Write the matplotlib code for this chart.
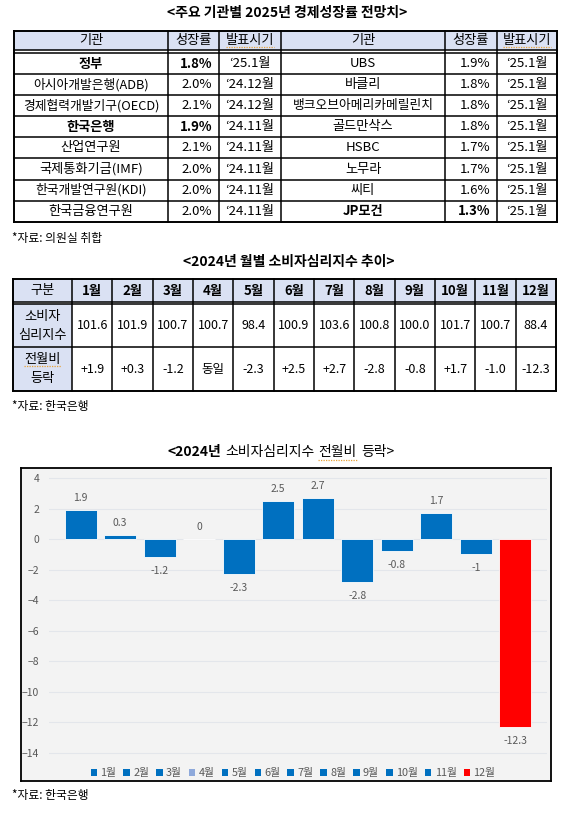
import matplotlib.pyplot as plt
from matplotlib.patches import Rectangle, Patch

plt.rcParams['font.family'] = ['Noto Sans CJK KR', 'DejaVu Sans']

# ---- table 1: growth forecasts ----
left_org = ['정부', '아시아개발은행(ADB)', '경제협력개발기구(OECD)', '한국은행',
            '산업연구원', '국제통화기금(IMF)', '한국개발연구원(KDI)', '한국금융연구원']
left_rate = [1.8, 2.0, 2.1, 1.9, 2.1, 2.0, 2.0, 2.0]
left_date = ['‘25.1월', '‘24.12월', '‘24.12월', '‘24.11월',
             '‘24.11월', '‘24.11월', '‘24.11월', '‘24.11월']
left_bold = [True, False, False, True, False, False, False, False]

right_org = ['UBS', '바클리', '뱅크오브아메리카메릴린치', '골드만삭스',
             'HSBC', '노무라', '씨티', 'JP모건']
right_rate = [1.9, 1.8, 1.8, 1.8, 1.7, 1.7, 1.6, 1.3]
right_date = ['‘25.1월'] * 8
right_bold = [False, False, False, False, False, False, False, True]

# ---- table 2 / chart: consumer sentiment ----
months = ['1월', '2월', '3월', '4월', '5월', '6월',
          '7월', '8월', '9월', '10월', '11월', '12월']
csi = [101.6, 101.9, 100.7, 100.7, 98.4, 100.9,
       103.6, 100.8, 100.0, 101.7, 100.7, 88.4]
change = [1.9, 0.3, -1.2, 0, -2.3, 2.5, 2.7, -2.8, -0.8, 1.7, -1.0, -12.3]
bar_colors = ['#0070C0', '#0070C0', '#0070C0', '#8EA9DB', '#0070C0', '#0070C0',
              '#0070C0', '#0070C0', '#0070C0', '#0070C0', '#0070C0', '#FF0000']

W, H = 585, 813
HEAD = '#DAE1F3'
fig = plt.figure(figsize=(W / 100, H / 100), dpi=100)
cv = fig.add_axes([0, 0, 1, 1])
cv.set_xlim(0, W)
cv.set_ylim(H, 0)
cv.axis('off')


def hl(y, x0, x1, lw=1.1):
    cv.plot([x0, x1], [y, y], color='black', lw=lw, solid_capstyle='projecting')


def vl(x, y0, y1, lw=1.1):
    cv.plot([x, x], [y0, y1], color='black', lw=lw, solid_capstyle='projecting')


fs = 9.5
# title 1
cv.text(287, 13, '<주요 기관별 2025년 경제성장률 전망치>', ha='center', va='center',
        fontsize=10, fontweight='bold')

cols = [14, 168, 219, 281, 445, 497, 557]
top, head, body, rh = 31, 50, 53, 21.1
bottom = body + rh * 8
cv.add_patch(Rectangle((cols[0], top), cols[-1] - cols[0], head - top, fc=HEAD, ec='none'))
hl(top, cols[0], cols[-1], 1.4)
hl(head, cols[0], cols[-1])
hl(body, cols[0], cols[-1])
for i in range(1, 8):
    hl(body + rh * i, cols[0], cols[-1])
hl(bottom, cols[0], cols[-1], 1.4)
for k, x in enumerate(cols):
    vl(x, top, bottom, 1.4 if k in (0, 6) else 1.1)

date_heads = []
for side, (orgs, rates, dates, bolds) in enumerate(
        [(left_org, left_rate, left_date, left_bold),
         (right_org, right_rate, right_date, right_bold)]):
    c = cols[side * 3: side * 3 + 4]
    hy = (top + head) / 2
    cv.text((c[0] + c[1]) / 2, hy, '기관', ha='center', va='center', fontsize=fs)
    cv.text((c[1] + c[2]) / 2, hy, '성장률', ha='center', va='center', fontsize=fs)
    date_heads.append(cv.text((c[2] + c[3]) / 2, hy, '발표시기', ha='center',
                              va='center', fontsize=fs))
    for i in range(8):
        y = body + rh * (i + 0.5)
        w = 'bold' if bolds[i] else 'normal'
        cv.text((c[0] + c[1]) / 2, y, orgs[i], ha='center', va='center',
                fontsize=fs if len(orgs[i]) < 12 else 9.2, fontweight=w)
        cv.text(c[2] - 7, y, f'{rates[i]:.1f}%', ha='right', va='center',
                fontsize=fs, fontweight=w)
        cv.text((c[2] + c[3]) / 2, y, dates[i], ha='center', va='center', fontsize=fs)

cv.text(12, 238, '*자료: 의원실 취합', ha='left', va='center', fontsize=8.5)

# ---- table 2 ----
cv.text(289, 262, '<2024년 월별 소비자심리지수 추이>', ha='center', va='center',
        fontsize=10, fontweight='bold')
x0, c1, x1 = 13, 72, 556
top2, head2, body2, mid2, bot2 = 279, 302, 304.5, 347, 391
cw = (x1 - c1) / 12
cv.add_patch(Rectangle((x0, top2), x1 - x0, head2 - top2, fc=HEAD, ec='none'))
cv.add_patch(Rectangle((x0, body2), c1 - x0, bot2 - body2, fc=HEAD, ec='none'))
hl(top2, x0, x1, 1.4)
hl(head2, x0, x1)
hl(body2, x0, x1)
hl(mid2, x0, x1)
hl(bot2, x0, x1, 1.4)
vl(x0, top2, bot2, 1.4)
vl(x1, top2, bot2, 1.4)
vl(c1, top2, bot2)
for j in range(1, 12):
    vl(c1 + cw * j, top2, bot2)

cv.text((x0 + c1) / 2, (top2 + head2) / 2, '구분', ha='center', va='center', fontsize=fs)
row_mid = [(body2 + mid2) / 2, (mid2 + bot2) / 2]
row_lab = [['소비자', '심리지수'], ['전월비', '등락']]
row_txt = []
for r in range(2):
    row_txt.append(cv.text((x0 + c1) / 2, row_mid[r] - 9.5, row_lab[r][0], ha='center',
                           va='center', fontsize=fs))
    cv.text((x0 + c1) / 2, row_mid[r] + 9.5, row_lab[r][1], ha='center',
            va='center', fontsize=fs)
for j in range(12):
    xc = c1 + cw * (j + 0.5)
    cv.text(xc, (top2 + head2) / 2, months[j], ha='center', va='center',
            fontsize=fs, fontweight='bold')
    cv.text(xc, row_mid[0], f'{csi[j]:.1f}', ha='center', va='center', fontsize=9)
    s = '동일' if change[j] == 0 else f'{change[j]:+.1f}'
    cv.text(xc, row_mid[1], s, ha='center', va='center', fontsize=9)

cv.text(12, 406, '*자료: 한국은행', ha='left', va='center', fontsize=8.5)

# ---- chart title (mixed weight) ----
ta = cv.text(167, 452, '<2024년', ha='left', va='center', fontsize=10, fontweight='bold')
tb = cv.annotate('소비자심리지수', xy=(1, 0), xycoords=ta, xytext=(3, 0),
                 textcoords='offset points', va='bottom', ha='left', fontsize=10)
tc = cv.annotate('전월비', xy=(1, 0), xycoords=tb, xytext=(3, 0),
                 textcoords='offset points', va='bottom', ha='left', fontsize=10)
cv.annotate('등락>', xy=(1, 0), xycoords=tc, xytext=(3, 0),
            textcoords='offset points', va='bottom', ha='left', fontsize=10)

cv.text(12, 795, '*자료: 한국은행', ha='left', va='center', fontsize=8.5)

# ---- chart ----
panel = fig.add_axes([21 / W, 1 - 781 / H, 530 / W, 313 / H])
panel.set_facecolor('#F3F3F3')
panel.set_xticks([])
panel.set_yticks([])
for sp in panel.spines.values():
    sp.set_linewidth(1.3)
    sp.set_color('black')

top_px, bot_px = 473.4, 757.6
ax = fig.add_axes([49 / W, 1 - bot_px / H, 498 / W, (bot_px - top_px) / H])
ax.patch.set_alpha(0)
ax.set_xlim(-0.8, 11.8)
ax.set_ylim(-14.3, 4.3)
ticks = list(range(-14, 5, 2))
ax.set_yticks(ticks)
ax.set_xticks([])
ax.tick_params(axis='y', length=0, pad=7, labelsize=7.5, labelcolor='#595959')
for sp in ax.spines.values():
    sp.set_visible(False)
for t in ticks:
    ax.axhline(t, color='#E3E6EB', lw=0.8, zorder=0)

xs = list(range(len(change)))
ax.bar(xs, change, width=0.81, color=bar_colors, edgecolor='white', lw=0.6, zorder=2)
for i, v in enumerate(change):
    off = 8.6 if v >= 0 else -10
    ax.annotate(f'{v:g}', (i, v), xytext=(0, off), textcoords='offset points',
                ha='center', va='center', fontsize=7.5, color='#595959')

handles = [Patch(fc=c, ec='none') for c in bar_colors]
fig.legend(handles, months, loc='center', bbox_to_anchor=(293 / W, 1 - 773 / H),
           ncol=12, frameon=False, fontsize=7.8, handlelength=0.6, handleheight=0.6,
           handletextpad=0.3, columnspacing=0.65, labelcolor='#595959',
           borderpad=0, borderaxespad=0)

# spell-check squiggles seen in the source document
fig.canvas.draw()
r = fig.canvas.get_renderer()
inv = cv.transData.inverted()
for t in date_heads + [row_txt[1], tc]:
    bb = t.get_window_extent(r)
    (ax0, ay0), (ax1, ay1) = inv.transform([(bb.x0, bb.y0), (bb.x1, bb.y1)])
    cv.plot([ax0, ax1], [max(ay0, ay1) + 0.5] * 2, color='#E8A33A', lw=0.9,
            linestyle=(0, (1, 1)))

fig.savefig('out.png', dpi=100)
